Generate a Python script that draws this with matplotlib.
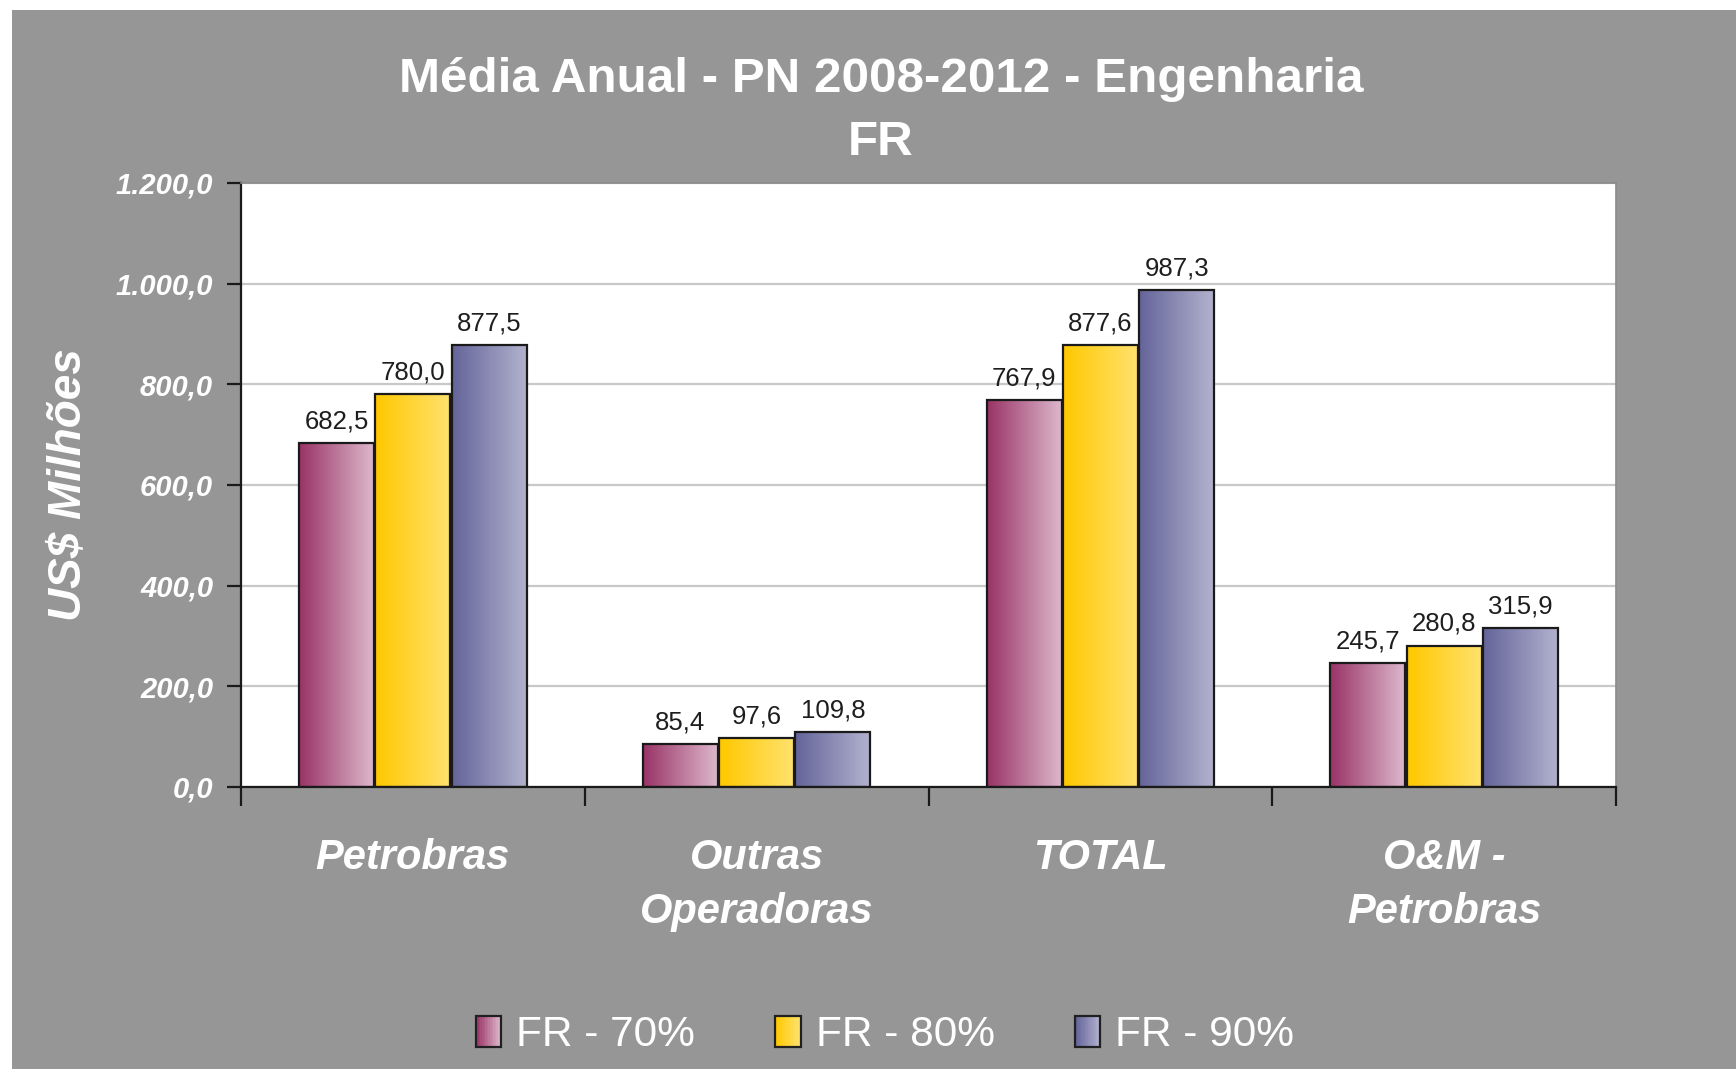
import numpy as np
import matplotlib
matplotlib.use("Agg")
import matplotlib.pyplot as plt
from matplotlib.patches import Rectangle
from matplotlib.legend_handler import HandlerBase
from matplotlib.colors import LinearSegmentedColormap, to_rgb

# data
categories = ["Petrobras", "Outras\nOperadoras", "TOTAL", "O&M -\nPetrobras"]
series_names = ["FR - 70%", "FR - 80%", "FR - 90%"]
fr70 = [682.5, 85.4, 767.9, 245.7]
fr80 = [780.0, 97.6, 877.6, 280.8]
fr90 = [877.5, 109.8, 987.3, 315.9]
yticks = [0, 200, 400, 600, 800, 1000, 1200]

title_1 = "Média Anual - PN 2008-2012 - Engenharia"
title_2 = "FR"
ylabel = "US$ Milhões"

# left (dark) -> right (light) colours of each series
gradients = [("#993366", "#DDB8CC"), ("#FFC800", "#FFE26E"), ("#64649A", "#B2B2CE")]

plt.rcParams["font.family"] = ["Liberation Sans", "DejaVu Sans"]


def br(v):
    s = "{:,.1f}".format(v)
    return s.replace(",", "X").replace(".", ",").replace("X", ".")


class GradHandler(HandlerBase):
    def __init__(self, c0, c1):
        super().__init__()
        self.c0 = np.array(to_rgb(c0))
        self.c1 = np.array(to_rgb(c1))

    def create_artists(self, legend, orig_handle, xdescent, ydescent,
                       width, height, fontsize, trans):
        n = 16
        arts = []
        for i in range(n):
            t = i / (n - 1)
            arts.append(Rectangle((-xdescent + i * width / n, -ydescent), width / n + 0.3, height,
                                  facecolor=self.c0 * (1 - t) + self.c1 * t,
                                  edgecolor="none", transform=trans))
        arts.append(Rectangle((-xdescent, -ydescent), width, height, fill=False,
                              edgecolor="#202020", lw=1.6, transform=trans))
        return arts


fig = plt.figure(figsize=(17.36, 10.69), dpi=100, facecolor="white")
fig.patches.append(Rectangle((12 / 1736, 0), 1, 1 - 10 / 1069, transform=fig.transFigure,
                             facecolor="#969696", edgecolor="none", zorder=-10))

ax = fig.add_axes([241 / 1736, 1 - 787 / 1069, 1375 / 1736, 604 / 1069])
ax.set_facecolor("white")

x = np.arange(len(categories))
w = 0.218
series = [fr70, fr80, fr90]
for k, vals in enumerate(series):
    bars = ax.bar(x + (k - 1) * (w + 0.004), vals, w, facecolor="none",
                  edgecolor="#1a1a1a", lw=1.6, zorder=3)
    cmap = LinearSegmentedColormap.from_list("g%d" % k, gradients[k])
    grad = np.linspace(0, 1, 256).reshape(1, -1)
    for b, v in zip(bars, vals):
        bx, bw = b.get_x(), b.get_width()
        ax.imshow(grad, extent=[bx, bx + bw, 0, b.get_height()], aspect="auto",
                  cmap=cmap, zorder=2, interpolation="bilinear")
        ax.annotate(br(v), (bx + bw / 2, v), xytext=(0, 7), textcoords="offset points",
                    ha="center", va="bottom", fontsize=18.5, color="#1e1e1e", zorder=4)

ax.set_xlim(-0.5, len(categories) - 0.5)
ax.set_ylim(0, 1200)

ax.set_yticks(yticks)
ax.set_yticklabels([br(t) for t in yticks], fontsize=21, fontweight="bold",
                   fontstyle="italic", color="white")
ax.tick_params(axis="y", length=10, width=1.6, color="#1a1a1a", pad=10)
ax.yaxis.grid(True, color="#c8c8c8", lw=1.6)
ax.set_axisbelow(True)

ax.set_xticks(np.arange(len(categories) + 1) - 0.5)
ax.set_xticklabels([])
ax.tick_params(axis="x", which="major", length=14, width=1.6, color="#1a1a1a")
ax.set_xticks(x, minor=True)
ax.set_xticklabels(categories, minor=True, fontsize=30, fontweight="bold",
                   fontstyle="italic", color="white", linespacing=1.45)
ax.tick_params(axis="x", which="minor", length=0, pad=37)

for s in ["left", "bottom"]:
    ax.spines[s].set_color("#1a1a1a")
    ax.spines[s].set_linewidth(1.6)
for s in ["top", "right"]:
    ax.spines[s].set_color("#8a8a8a")
    ax.spines[s].set_linewidth(1.2)

ax.set_ylabel(ylabel, fontsize=33, fontweight="bold", fontstyle="italic", color="white")
ax.yaxis.set_label_coords(-0.109, 0.5)

fig.text(881 / 1736, 1 - 79 / 1069, title_1, ha="center", va="center",
         fontsize=35.6, fontweight="bold", color="white")
fig.text(881 / 1736, 1 - 142 / 1069, title_2, ha="center", va="center",
         fontsize=35.6, fontweight="bold", color="white")

handles = [Rectangle((0, 0), 1, 1) for _ in series_names]
fig.legend(handles, series_names, loc="center", bbox_to_anchor=(885 / 1736, 1 - 1035 / 1069),
           ncol=3, frameon=False, fontsize=30.5, labelcolor="white",
           handlelength=0.6, handleheight=0.75, handletextpad=0.35, columnspacing=1.9,
           handler_map={h: GradHandler(*g) for h, g in zip(handles, gradients)})

fig.savefig("out.png", dpi=100, facecolor=fig.get_facecolor())
